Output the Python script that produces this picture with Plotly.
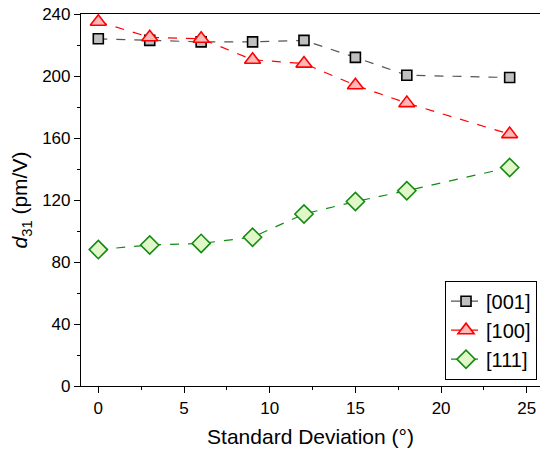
import plotly.graph_objects as go

x_vals = [0, 3, 6, 9, 12, 15, 18, 24]
d31_001 = [224, 223, 222, 222, 223, 212, 200.5, 199]
d31_100 = [235, 225, 224, 210.5, 208, 194, 182.5, 162.5]
d31_111 = [88, 91, 92, 96, 111, 119, 126, 141]

x_ticks = [0, 5, 10, 15, 20, 25]
y_ticks = [0, 40, 80, 120, 160, 200, 240]

FONT = "Liberation Sans, Arial, sans-serif"

fig = go.Figure()
series = [
    ("[001]", d31_001, "square", "#555555", "#c0c0c0", "#000000", 10),
    ("[100]", d31_100, "triangle-up", "#ff0000", "#ffb8b8", "#ff0000", 14),
    ("[111]", d31_111, "diamond", "#138a13", "#e2f7c8", "#138a13", 14),
]
for name, ys, sym, lc, fc, oc, sz in series:
    fig.add_trace(go.Scatter(
        x=x_vals, y=ys, name=name, mode="lines+markers",
        line=dict(color=lc, width=1.2, dash="dash"),
        marker=dict(symbol=sym, size=sz, color=fc, line=dict(color=oc, width=1.6)),
        cliponaxis=False,
    ))

fig.update_layout(
    width=540, height=454,
    margin=dict(l=81, r=0, t=14, b=67.5),
    paper_bgcolor="white", plot_bgcolor="white",
    font=dict(family=FONT, size=17, color="black"),
    showlegend=True,
    legend=dict(
        x=0.9935, y=0.017, xanchor="right", yanchor="bottom",
        bordercolor="black", borderwidth=1, bgcolor="white",
        font=dict(size=20, family=FONT), tracegroupgap=0,
    ),
    xaxis=dict(
        range=[-1.01, 25.77], tickvals=x_ticks, showgrid=False, zeroline=False,
        showline=True, linecolor="black", linewidth=1.2, mirror=True,
        ticks="outside", ticklen=6, tickwidth=1.2, tickcolor="black",
        minor=dict(dtick=2.5, tick0=0, ticks="outside", ticklen=3, tickwidth=1.2, tickcolor="black"),
        title=dict(text="Standard Deviation (°)", font=dict(size=21), standoff=12),
        tickfont=dict(size=17),
    ),
    yaxis=dict(
        range=[0, 240], tickvals=y_ticks, showgrid=False, zeroline=False,
        showline=True, linecolor="black", linewidth=1.2,
        ticks="outside", ticklen=6, tickwidth=1.2, tickcolor="black",
        minor=dict(dtick=20, tick0=0, ticks="outside", ticklen=3, tickwidth=1.2, tickcolor="black"),
        title=dict(text="<i>d</i><sub>31</sub> (pm/V)", font=dict(size=21), standoff=8),
        tickfont=dict(size=17),
    ),
)

fig.write_html("out.html")
